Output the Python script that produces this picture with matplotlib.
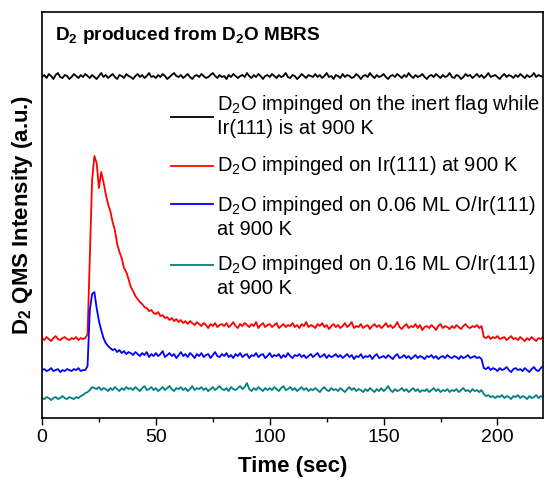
import matplotlib
matplotlib.use('Agg')
import matplotlib.pyplot as plt
import numpy as np

plt.rcParams['font.family'] = ['Liberation Sans', 'DejaVu Sans']
plt.rcParams['mathtext.fontset'] = 'custom'
plt.rcParams['mathtext.rm'] = 'Liberation Sans'
plt.rcParams['mathtext.bf'] = 'Liberation Sans:bold'

# time axis, 1 s steps
time = np.arange(0, 221)

# D2O on inert flag
black = [341, 343, 340, 344, 342, 339, 343, 345, 341, 340,
         343, 342, 339, 341, 344, 342, 340, 343, 341, 344,
         342, 340, 343, 341, 339, 342, 345, 341, 343, 340,
         342, 344, 341, 339, 343, 342, 340, 344, 342, 341,
         339, 342, 344, 341, 343, 340, 342, 345, 341, 342,
         340, 343, 341, 344, 342, 339, 341, 343, 345, 342,
         341, 343, 340, 342, 344, 341, 339, 342, 343, 341,
         344, 342, 340, 341, 343, 345, 342, 340, 343, 341,
         342, 339, 343, 341, 344, 342, 340, 342, 343, 341,
         345, 342, 340, 343, 341, 344, 342, 339, 342, 343,
         341, 344, 342, 340, 343, 341, 342, 345, 341, 340,
         343, 342, 339, 341, 344, 342, 340, 343, 342, 341,
         344, 341, 343, 340, 342, 345, 341, 342, 339, 343,
         342, 340, 344, 341, 343, 342, 340, 341, 344, 342,
         339, 342, 343, 341, 345, 342, 340, 343, 341, 342,
         344, 341, 339, 342, 343, 341, 344, 342, 340, 343,
         341, 345, 342, 340, 343, 341, 342, 344, 341, 339,
         342, 343, 341, 344, 342, 340, 343, 341, 342, 345,
         341, 340, 343, 342, 339, 341, 344, 342, 343, 340,
         342, 344, 341, 343, 340, 342, 345, 341, 342, 343,
         341, 339, 342, 344, 341, 343, 342, 340, 343, 341,
         344, 342, 340, 343, 341, 342, 345, 341, 343, 342, 341]

# D2O on Ir(111)
red = [80, 78, 81, 79, 77, 80, 82, 79, 78, 80,
       81, 79, 78, 80, 79, 81, 78, 80, 79, 80,
       84, 160, 238, 262, 255, 230, 246, 236, 224, 214,
       207, 196, 188, 174, 166, 160, 150, 146, 139, 131,
       127, 122, 119, 116, 114, 111, 110, 107, 108, 105,
       104, 106, 102, 103, 100, 101, 98, 100, 97, 99,
       96, 98, 95, 97, 94, 97, 95, 93, 96, 94,
       92, 95, 93, 90, 94, 92, 95, 91, 93, 94,
       92, 95, 91, 93, 96, 92, 90, 94, 92, 95,
       93, 91, 94, 92, 96, 90, 93, 95, 91, 93,
       94, 91, 93, 95, 90, 92, 94, 91, 93, 92,
       95, 91, 93, 90, 94, 92, 96, 91, 93, 92,
       90, 94, 92, 95, 91, 93, 89, 92, 94, 91,
       93, 90, 92, 95, 91, 93, 96, 90, 92, 91,
       94, 90, 92, 93, 89, 92, 94, 91, 93, 90,
       92, 95, 91, 93, 90, 92, 96, 91, 89, 92,
       94, 90, 92, 91, 94, 90, 93, 88, 91, 92,
       90, 93, 91, 88, 92, 94, 90, 92, 91, 89,
       92, 90, 93, 91, 89, 92, 94, 91, 90, 92,
       91, 93, 90, 92, 81, 80, 82, 79, 81, 80,
       82, 79, 80, 81, 78, 80, 82, 79, 80, 78,
       81, 79, 77, 80, 78, 81, 79, 77, 80, 79, 81]

# D2O on 0.06 ML O/Ir(111)
blue = [48, 49, 47, 48, 50, 47, 48, 49, 46, 48,
        47, 49, 48, 47, 49, 48, 50, 47, 48, 48,
        52, 108, 124, 126, 110, 97, 88, 80, 75, 72,
        70, 68, 69, 66, 68, 65, 67, 64, 66, 65,
        63, 66, 64, 62, 65, 63, 66, 61, 64, 62,
        65, 62, 64, 67, 61, 63, 65, 62, 64, 60,
        63, 66, 62, 64, 61, 65, 63, 60, 64, 62,
        65, 61, 63, 64, 60, 63, 66, 62, 61, 64,
        62, 65, 61, 63, 60, 64, 62, 65, 61, 63,
        64, 60, 63, 62, 65, 61, 63, 64, 60, 62,
        65, 61, 63, 62, 64, 60, 63, 61, 65, 62,
        60, 63, 62, 64, 61, 63, 60, 62, 64, 61,
        63, 65, 61, 62, 64, 60, 63, 61, 62, 64,
        61, 63, 60, 62, 64, 61, 63, 59, 62, 61,
        64, 60, 62, 61, 63, 59, 62, 64, 60, 61,
        62, 60, 63, 61, 59, 62, 64, 60, 61, 63,
        60, 62, 59, 61, 63, 60, 62, 61, 59, 62,
        61, 63, 60, 62, 59, 61, 62, 60, 63, 61,
        60, 62, 61, 59, 62, 60, 61, 63, 60, 61,
        62, 60, 61, 59, 50, 49, 51, 48, 50, 49,
        47, 50, 48, 49, 51, 48, 46, 49, 50, 48,
        49, 47, 50, 48, 46, 49, 51, 48, 47, 50, 52]

# D2O on 0.16 ML O/Ir(111)
teal = [20, 19, 21, 20, 18, 20, 21, 19, 20, 22,
        20, 19, 21, 20, 19, 21, 20, 22, 23, 25,
        26, 28, 31, 30, 29, 31, 28, 30, 29, 27,
        30, 28, 31, 29, 27, 30, 28, 31, 29, 30,
        28, 31, 29, 27, 30, 32, 28, 29, 31, 28,
        30, 27, 29, 31, 28, 30, 32, 29, 27, 30,
        29, 31, 28, 30, 27, 29, 32, 28, 30, 29,
        31, 28, 30, 27, 29, 31, 28, 30, 32, 29,
        28, 30, 27, 31, 29, 28, 30, 32, 29, 31,
        35, 29, 27, 30, 28, 31, 29, 27, 30, 28,
        30, 28, 31, 29, 27, 30, 32, 28, 29, 31,
        28, 30, 27, 29, 31, 28, 30, 27, 29, 28,
        30, 28, 26, 29, 31, 28, 27, 30, 28, 29,
        27, 30, 28, 26, 29, 31, 28, 30, 27, 29,
        28, 26, 29, 27, 30, 28, 26, 29, 27, 30,
        27, 29, 32, 28, 26, 29, 27, 28, 30, 27,
        29, 26, 28, 30, 27, 29, 26, 28, 27, 29,
        26, 28, 30, 27, 29, 26, 28, 27, 29, 26,
        28, 27, 29, 26, 28, 30, 27, 28, 26, 29,
        27, 28, 26, 28, 24, 22, 23, 21, 22, 20,
        22, 21, 23, 20, 22, 21, 19, 22, 21, 23,
        20, 22, 21, 19, 22, 20, 21, 23, 20, 22, 21]

labels = [r'D$_2$O impinged on the inert flag while' + '\n' + 'Ir(111) is at 900 K',
          r'D$_2$O impinged on Ir(111) at 900 K',
          r'D$_2$O impinged on 0.06 ML O/Ir(111)' + '\n' + 'at 900 K',
          r'D$_2$O impinged on 0.16 ML O/Ir(111)' + '\n' + 'at 900 K']
colors = ['black', '#ff0000', '#0000ff', '#008080']
series = [black, red, blue, teal]

fig = plt.figure(figsize=(5.44, 4.8), dpi=100)
ax = fig.add_axes([0.0772, 0.129, 0.921, 0.846])

for s, c in zip(series, colors):
    ax.plot(time, s, color=c, lw=1.3)

ax.set_xlim(0, 220)
ax.set_ylim(0, 406)
ax.set_xticks([0, 50, 100, 150, 200])
ax.set_xticks([25, 75, 125, 175], minor=True)
ax.set_yticks([])
ax.tick_params(axis='x', which='major', direction='out', length=5, width=1, labelsize=14, pad=3)
ax.tick_params(axis='x', which='minor', direction='out', length=3, width=1)
for sp in ax.spines.values():
    sp.set_linewidth(1.2)

ax.set_xlabel('Time (sec)', fontsize=16, fontweight='bold', labelpad=7)
ax.set_ylabel(r'D$_\mathbf{2}$ QMS Intensity (a.u.)', fontsize=16, fontweight='bold', labelpad=5)

ax.text(0.026, 0.931, r'D$_\mathbf{2}$ produced from D$_\mathbf{2}$O MBRS', transform=ax.transAxes,
        fontsize=13.7, fontweight='bold', va='baseline', ha='left')

# legend drawn by hand so handles sit like the original
handle_y = [0.741, 0.621, 0.527, 0.377]
text_y = [0.746, 0.623, 0.496, 0.350]
for c, lab, hy, ty in zip(colors, labels, handle_y, text_y):
    ax.plot([0.2575, 0.341], [hy, hy], color=c, lw=1.3, transform=ax.transAxes)
    ax.text(0.349, ty, lab, transform=ax.transAxes, fontsize=14.5, va='center', ha='left')

fig.savefig('out.png', dpi=100)
